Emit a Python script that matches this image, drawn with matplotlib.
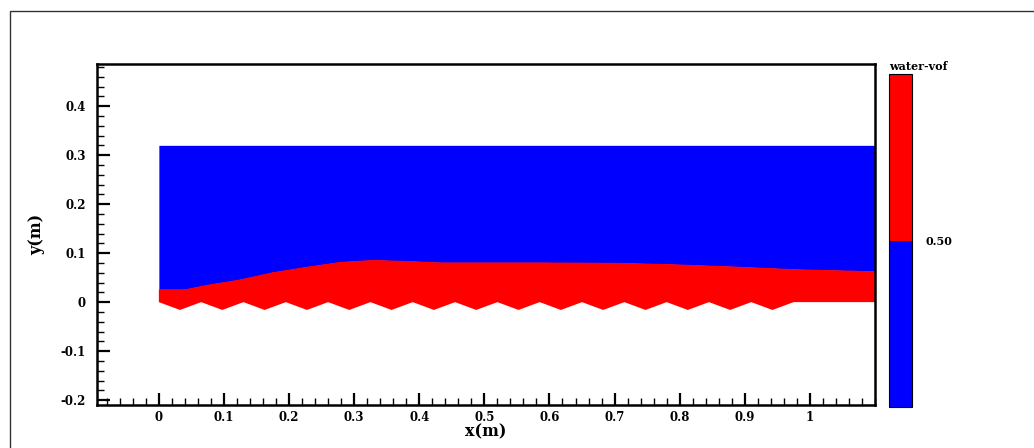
import numpy as np
import matplotlib.pyplot as plt
from matplotlib.colors import ListedColormap, BoundaryNorm
from matplotlib.patches import Rectangle
from matplotlib.ticker import MultipleLocator, FixedLocator

plt.rcParams['font.family'] = ['DejaVu Serif', 'Liberation Serif']
plt.rcParams['font.weight'] = 'bold'

# water surface (interface vof = 0.5)
surf_x = [0.0, 0.04, 0.073, 0.124, 0.175, 0.227, 0.278, 0.329, 0.38, 0.431,
          0.585, 0.713, 0.795, 0.877, 0.98, 1.1]
surf_y = [0.026, 0.026, 0.035, 0.046, 0.061, 0.072, 0.082, 0.086, 0.084, 0.081,
          0.081, 0.080, 0.077, 0.073, 0.067, 0.063]

# rippled bed (crest / trough points)
bed_x = [0.0, 0.0325, 0.065, 0.0975, 0.13, 0.1625, 0.195, 0.2275, 0.26, 0.2925,
         0.325, 0.3575, 0.39, 0.4225, 0.455, 0.4875, 0.52, 0.5525, 0.585, 0.6175,
         0.65, 0.6825, 0.715, 0.7475, 0.78, 0.8125, 0.845, 0.8775, 0.91, 0.9425,
         0.975, 1.1]
bed_y = [0.0, -0.016, 0.0, -0.016, 0.0, -0.016, 0.0, -0.016, 0.0, -0.016,
         0.0, -0.016, 0.0, -0.016, 0.0, -0.016, 0.0, -0.016, 0.0, -0.016,
         0.0, -0.016, 0.0, -0.016, 0.0, -0.016, 0.0, -0.016, 0.0, -0.016,
         0.0, 0.0]

tank_top = 0.32
x_ticks = [0, 0.1, 0.2, 0.3, 0.4, 0.5, 0.6, 0.7, 0.8, 0.9, 1]
x_labels = ["0", "0.1", "0.2", "0.3", "0.4", "0.5", "0.6", "0.7", "0.8", "0.9", "1"]
y_ticks = [-0.2, -0.1, 0, 0.1, 0.2, 0.3, 0.4]
y_labels = ["-0.2", "-0.1", "0", "0.1", "0.2", "0.3", "0.4"]

fig = plt.figure(figsize=(10.34, 4.48), dpi=100)

# outer frame
fig.patches.append(Rectangle((10 / 1034, -0.1), 1.2, 1 - 11 / 448 + 0.1,
                             transform=fig.transFigure, fill=False,
                             edgecolor='#333333', lw=1.0))

ax = fig.add_axes([97 / 1034, 1 - 405 / 448, (875 - 97) / 1034, (405 - 64) / 448])

# air (blue) above, water (red) below surface
ax.fill_between(surf_x, surf_y, tank_top, color='#0000ff', lw=0)
ax.fill(surf_x + bed_x[::-1], surf_y + bed_y[::-1], color='#ff0000', lw=0)

ax.set_xlim(-0.095, 1.1)
ax.set_ylim(-0.21, 0.486)

ax.xaxis.set_major_locator(FixedLocator(x_ticks))
ax.set_xticklabels(x_labels)
ax.yaxis.set_major_locator(FixedLocator(y_ticks))
ax.set_yticklabels(y_labels)
ax.xaxis.set_minor_locator(MultipleLocator(0.02))
ax.yaxis.set_minor_locator(MultipleLocator(0.02))
ax.tick_params(which='major', direction='in', length=9, width=1.6, labelsize=8.5)
ax.tick_params(which='minor', direction='in', length=5, width=1.0)
ax.tick_params(axis='x', pad=4)
ax.tick_params(axis='y', pad=8)
for s in ax.spines.values():
    s.set_linewidth(1.8)

ax.set_xlabel("x(m)", fontsize=11.5, fontweight='bold', labelpad=0)
ax.set_ylabel("y(m)", fontsize=11.5, fontweight='bold', labelpad=11)

# colour legend
cax = fig.add_axes([889 / 1034, 1 - 407 / 448, 23 / 1034, (407 - 74) / 448])
cmap = ListedColormap(['#0000ff', '#ff0000'])
norm = BoundaryNorm([0, 0.5, 1], cmap.N)
cb = fig.colorbar(plt.cm.ScalarMappable(norm=norm, cmap=cmap), cax=cax, ticks=[0.5])
cb.ax.set_yticklabels(["0.50"])
cb.ax.minorticks_off()
cb.ax.tick_params(length=0, labelsize=8, pad=10)
cb.outline.set_linewidth(0.8)
cax.set_title("water-vof", fontsize=8, fontweight='bold', pad=3, loc='left')

fig.savefig("out.png", dpi=100)
